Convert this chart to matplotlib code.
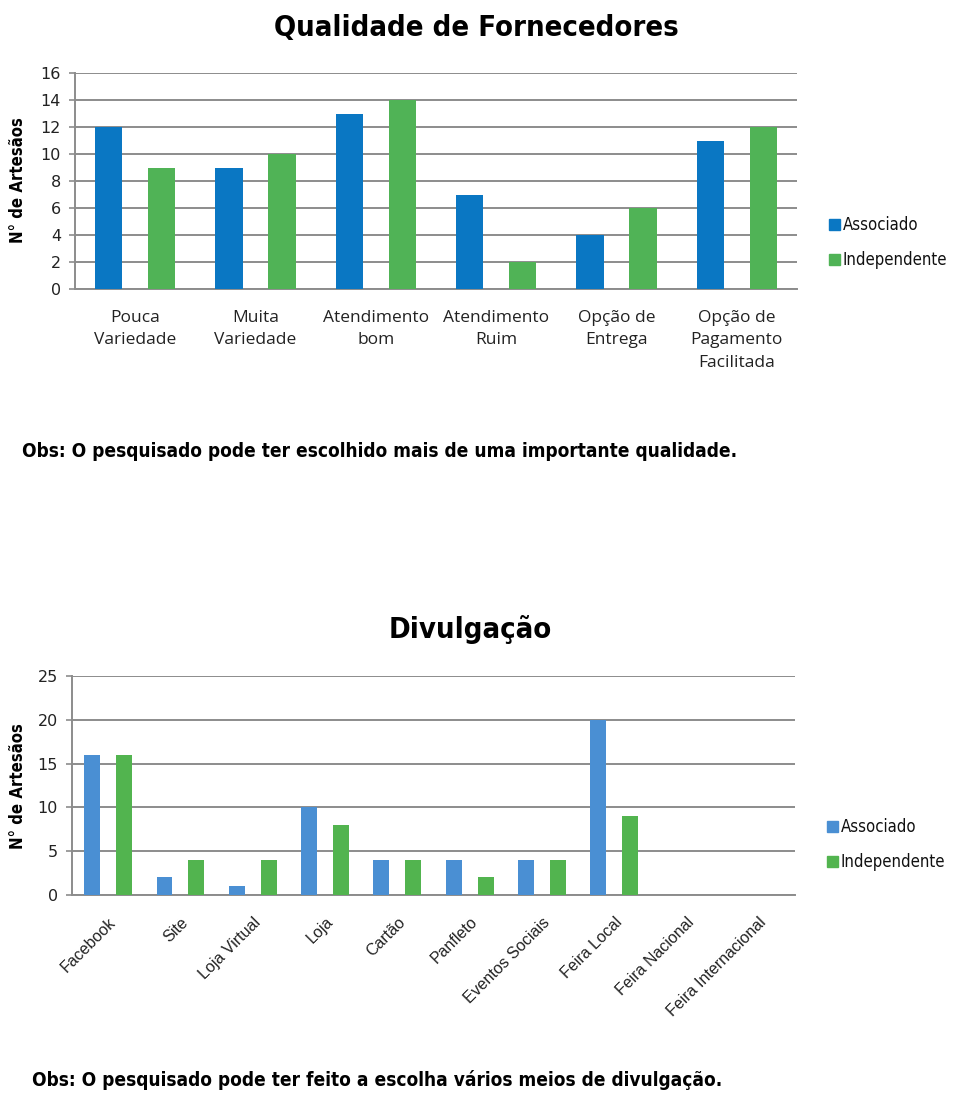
import matplotlib
matplotlib.use("Agg")
import matplotlib.pyplot as plt
import numpy as np

# ---- data ----
qual_categories = ["Pouca\nVariedade", "Muita\nVariedade", "Atendimento\nbom",
                   "Atendimento\nRuim", "Opção de\nEntrega", "Opção de\nPagamento\nFacilitada"]
qual_associado = [12, 9, 13, 7, 4, 11]
qual_independente = [9, 10, 14, 2, 6, 12]
qual_yticks = [0, 2, 4, 6, 8, 10, 12, 14, 16]

div_categories = ["Facebook", "Site", "Loja Virtual", "Loja", "Cartão", "Panfleto",
                  "Eventos Sociais", "Feira Local", "Feira Nacional", "Feira Internacional"]
div_associado = [16, 2, 1, 10, 4, 4, 4, 20, 0, 0]
div_independente = [16, 4, 4, 8, 4, 2, 4, 9, 0, 0]
div_yticks = [0, 5, 10, 15, 20, 25]

series_names = ["Associado", "Independente"]
ylabel_text = "N° de Artesãos"

W, H = 960, 1095
fig = plt.figure(figsize=(W / 100, H / 100), dpi=100)
fig.patch.set_facecolor("white")

NARROW = ["DejaVu Sans"]
GRID = "#8c8c8c"


def rect(left, top, right, bottom):
    return [left / W, 1 - bottom / H, (right - left) / W, (bottom - top) / H]


def style_axes(ax, yticks):
    ax.set_ylim(yticks[0], yticks[-1])
    ax.set_yticks(yticks)
    ax.yaxis.grid(True, color=GRID, linewidth=1.4)
    ax.set_axisbelow(True)
    for s in ["top", "right"]:
        ax.spines[s].set_visible(False)
    for s in ["left", "bottom"]:
        ax.spines[s].set_color(GRID)
        ax.spines[s].set_linewidth(1.4)
    ax.tick_params(axis="y", length=4, width=1.2, color=GRID, labelsize=11.5,
                   labelcolor="#222222", pad=6)
    for lab in ax.get_yticklabels():
        lab.set_family(["DejaVu Sans"])


def legend_px(x, y1, y2, c1, c2):
    for y, c, name in [(y1, c1, series_names[0]), (y2, c2, series_names[1])]:
        fig.patches.append(plt.Rectangle(((x) / W, 1 - (y + 5) / H), 11 / W, 11 / H,
                                         transform=fig.transFigure, color=c, zorder=5))
        fig.text((x + 14) / W, 1 - y / H, name, family=NARROW, fontstretch="condensed",
                 fontsize=12, va="center", ha="left", color="#111111")


# ---------------- top chart ----------------
blue1, green1 = "#0a77c3", "#50b356"
ax1 = fig.add_axes(rect(75, 73, 797, 289))
x = np.arange(len(qual_categories))
w = 0.225
ax1.bar(x - 0.22, qual_associado, w, color=blue1, zorder=3)
ax1.bar(x + 0.22, qual_independente, w, color=green1, zorder=3)
ax1.set_xlim(-0.5, len(qual_categories) - 0.5)
style_axes(ax1, qual_yticks)
ax1.set_xticks(x)
ax1.set_xticklabels(qual_categories, family=["Open Sans", "DejaVu Sans"], fontsize=12.5,
                    linespacing=1.55, color="#222222")
ax1.tick_params(axis="x", length=0, pad=15)
fig.text(18 / W, 1 - 180 / H, ylabel_text, rotation=90, family=NARROW,
         fontstretch="condensed", fontweight="bold", fontsize=12, ha="center", va="center")
fig.text(476 / W, 1 - 28 / H, "Qualidade de Fornecedores", family=NARROW,
         fontstretch="condensed", fontweight="bold", fontsize=21, ha="center", va="center")
legend_px(829, 225, 260, blue1, green1)
fig.text(22 / W, 1 - 452 / H,
         "Obs: O pesquisado pode ter escolhido mais de uma importante qualidade.",
         family=NARROW, fontstretch="condensed", fontweight="bold", fontsize=13.7,
         ha="left", va="center")

# ---------------- bottom chart ----------------
blue2, green2 = "#4a8fd3", "#52b44f"
ax2 = fig.add_axes(rect(72, 676, 795, 895))
x2 = np.arange(len(div_categories))
w2 = 0.22
ax2.bar(x2 - 0.22, div_associado, w2, color=blue2, zorder=3)
ax2.bar(x2 + 0.22, div_independente, w2, color=green2, zorder=3)
ax2.set_xlim(-0.5, len(div_categories) - 0.5)
style_axes(ax2, div_yticks)
ax2.set_xticks(x2)
ax2.set_xticklabels(div_categories, family=["Liberation Sans", "DejaVu Sans"], fontsize=11.5,
                    rotation=45, ha="right", rotation_mode="anchor", color="#222222")
ax2.tick_params(axis="x", length=0, pad=14)
fig.text(18 / W, 1 - 786 / H, ylabel_text, rotation=90, family=NARROW,
         fontstretch="condensed", fontweight="bold", fontsize=12, ha="center", va="center")
fig.text(470 / W, 1 - 630 / H, "Divulgação", family=NARROW, fontstretch="condensed",
         fontweight="bold", fontsize=21, ha="center", va="center")
legend_px(827, 827, 862, blue2, green2)
fig.text(32 / W, 1 - 1080 / H,
         "Obs: O pesquisado pode ter feito a escolha vários meios de divulgação.",
         family=NARROW, fontstretch="condensed", fontweight="bold", fontsize=13.7,
         ha="left", va="center")

fig.savefig("out.png", dpi=100, facecolor="white")
